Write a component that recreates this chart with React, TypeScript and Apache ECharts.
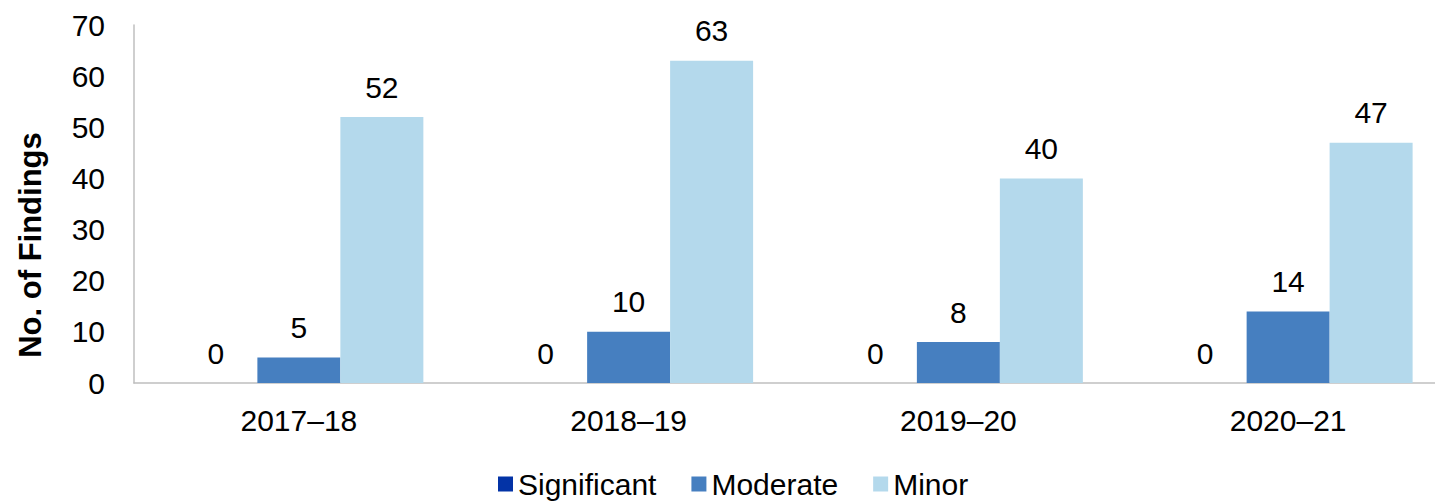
import React, { useEffect, useRef } from "react";
import * as echarts from "echarts";

const categories = ["2017–18", "2018–19", "2019–20", "2020–21"];
const seriesNames = ["Significant", "Moderate", "Minor"];
const significant = [0, 0, 0, 0];
const moderate = [5, 10, 8, 14];
const minor = [52, 63, 40, 47];
const yTicks = { min: 0, max: 70, interval: 10 };
const colors = ["#0333A6", "#467FC0", "#B4D9EC"];

export default function App() {
  const ref = useRef<HTMLDivElement>(null);
  useEffect(() => {
    if (!ref.current) return;
    const chart = echarts.init(ref.current, null, { renderer: "svg" });
    const font = "'Liberation Sans', Arial, sans-serif";
    const values = [significant, moderate, minor];
    chart.setOption({
      animation: false,
      textStyle: { fontFamily: font },
      grid: { left: 134, top: 25, width: 1319, height: 358, containLabel: false },
      legend: {
        left: 493,
        top: 464,
        itemWidth: 15,
        itemHeight: 15,
        itemGap: 35,
        icon: "rect",
        textStyle: { fontSize: 30, color: "#000", fontFamily: font },
        data: seriesNames,
      },
      xAxis: {
        type: "category",
        data: categories,
        axisLine: { lineStyle: { color: "#BFBFBF", width: 1.5 } },
        axisTick: { show: false },
        axisLabel: { fontSize: 30, color: "#000", margin: 22, fontFamily: font },
      },
      yAxis: {
        type: "value",
        min: yTicks.min,
        max: yTicks.max,
        interval: yTicks.interval,
        axisLine: { show: true, lineStyle: { color: "#BFBFBF", width: 1.5 } },
        axisTick: { show: false },
        splitLine: { show: false },
        axisLabel: { fontSize: 30, color: "#000", margin: 29, fontFamily: font },
      },
      graphic: [
        {
          type: "text",
          x: 30,
          y: 245,
          rotation: Math.PI / 2,
          style: {
            text: "No. of Findings",
            fontSize: 31,
            fontWeight: "bold",
            fill: "#000",
            fontFamily: font,
            textAlign: "center",
            textVerticalAlign: "middle",
          },
        },
      ],
      series: seriesNames.map((name, i) => ({
        name,
        type: "bar",
        data: values[i],
        barGap: "0%",
        barCategoryGap: "24.5%",
        itemStyle: { color: colors[i] },
        label: {
          show: true,
          position: "top",
          distance: 15,
          fontSize: 30,
          color: "#000",
          fontFamily: font,
        },
      })),
    });
    return () => chart.dispose();
  }, []);
  return (
    <div
      style={{ position: "fixed", left: 0, top: 0, width: 1435, height: 502, overflow: "hidden", background: "#fff" }}
    >
      <div ref={ref} style={{ position: "absolute", left: 0, top: 0, width: 1470, height: 502 }} />
    </div>
  );
}
